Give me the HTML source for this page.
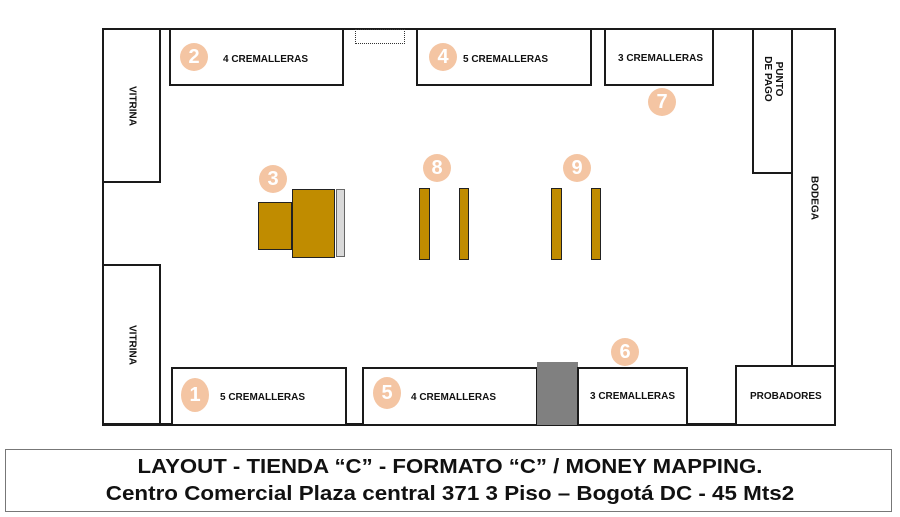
<!DOCTYPE html>
<html><head><meta charset="utf-8"><style>
body{margin:0;width:900px;height:517px;background:#fff;position:relative;overflow:hidden;font-family:"Liberation Sans",sans-serif}
.b{position:absolute;box-sizing:border-box;border:2px solid #1a1a1a;background:#fff;font-weight:bold;font-size:10px;color:#111}
.c{position:absolute;width:28px;height:28px;border-radius:50%;background:#f4c5a3;color:#fff;font-weight:bold;font-size:20px;text-align:center;line-height:28px}
.t{position:absolute;white-space:nowrap}
.v{position:absolute;left:50%;top:50%;transform:translate(-50%,-50%) rotate(90deg);white-space:nowrap;text-align:center;line-height:11px}
.g{position:absolute;box-sizing:border-box;border:1.5px solid #222;background:#c08c00}
</style></head><body>
<div class="b" style="left:102px;top:28px;width:734px;height:398px;border-width:2px 2px 3px 2px"></div>
<div class="b" style="left:102px;top:28px;width:59px;height:155px"><div class="v">VITRINA</div></div>
<div class="b" style="left:102px;top:264px;width:59px;height:161px"><div class="v">VITRINA</div></div>
<div class="b" style="left:169px;top:28px;width:175px;height:58px"><span class="t" style="left:52px;top:24px">4 CREMALLERAS</span></div>
<div style="position:absolute;left:355px;top:29px;width:50px;height:15px;box-sizing:border-box;border:1px dotted #333"></div>
<div class="b" style="left:416px;top:28px;width:176px;height:58px"><span class="t" style="left:45px;top:24px">5 CREMALLERAS</span></div>
<div class="b" style="left:604px;top:28px;width:110px;height:58px"><span class="t" style="left:12px;top:23px">3 CREMALLERAS</span></div>
<div class="b" style="left:752px;top:28px;width:41px;height:146px"><div class="v" style="margin-top:-22px">PUNTO<br>DE PAGO</div></div>
<div class="b" style="left:791px;top:28px;width:45px;height:339px"><div class="v">BODEGA</div></div>
<div class="b" style="left:735px;top:365px;width:101px;height:61px"><span class="t" style="left:13px;top:24px">PROBADORES</span></div>
<div class="b" style="left:171px;top:367px;width:176px;height:59px"><span class="t" style="left:47px;top:23px">5 CREMALLERAS</span></div>
<div class="b" style="left:362px;top:367px;width:176px;height:59px"><span class="t" style="left:47px;top:23px">4 CREMALLERAS</span></div>
<div style="position:absolute;left:537px;top:362px;width:41px;height:63px;background:#808080"></div>
<div class="b" style="left:577px;top:367px;width:111px;height:59px"><span class="t" style="left:11px;top:22px">3 CREMALLERAS</span></div>
<div class="g" style="left:258px;top:202px;width:34px;height:48px"></div>
<div class="g" style="left:292px;top:189px;width:43px;height:69px"></div>
<div style="position:absolute;left:336px;top:189px;width:9px;height:68px;box-sizing:border-box;border:1px solid #666;background:#d9d9d9"></div>
<div class="g" style="left:419px;top:188px;width:11px;height:72px"></div>
<div class="g" style="left:459px;top:188px;width:10px;height:72px"></div>
<div class="g" style="left:551px;top:188px;width:11px;height:72px"></div>
<div class="g" style="left:591px;top:188px;width:10px;height:72px"></div>
<div class="c" style="left:180px;top:43px">2</div>
<div class="c" style="left:429px;top:43px">4</div>
<div class="c" style="left:648px;top:88px">7</div>
<div class="c" style="left:259px;top:165px">3</div>
<div class="c" style="left:423px;top:154px">8</div>
<div class="c" style="left:563px;top:154px">9</div>
<div class="c" style="left:611px;top:338px">6</div>
<div class="c" style="left:181px;top:378px;height:34px;line-height:34px;border-radius:50%">1</div>
<div class="c" style="left:373px;top:377px;height:32px;line-height:32px">5</div>
<div style="position:absolute;left:5px;top:449px;width:887px;height:63px;box-sizing:border-box;border:1px solid #777"></div>
<div style="position:absolute;left:0;width:900px;top:454px;text-align:center;font-weight:bold;font-size:20px;line-height:27px;color:#111"><div style="transform:scaleX(1.11)">LAYOUT - TIENDA “C” - FORMATO “C” / MONEY MAPPING.</div><div style="transform:scaleX(1.12)">Centro Comercial Plaza central 371 3 Piso – Bogotá DC - 45 Mts2</div></div>
</body></html>
